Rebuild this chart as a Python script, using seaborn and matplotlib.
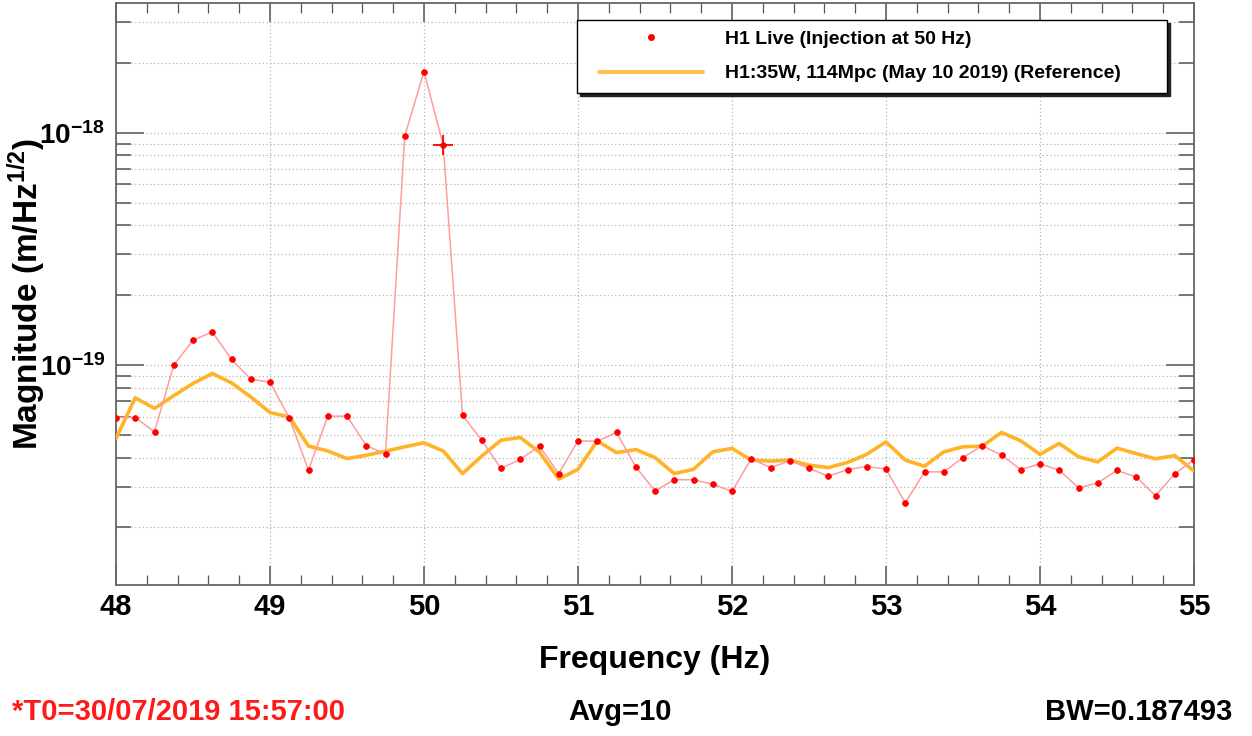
import numpy as np
import pandas as pd
import matplotlib
matplotlib.use("Agg")
import matplotlib.pyplot as plt
import matplotlib.ticker as mticker
from matplotlib.lines import Line2D
from matplotlib.legend_handler import HandlerLine2D
import seaborn as sns

# ---------------- data ----------------
freq = [48.0 + 0.125 * i for i in range(57)]

live = [5.95e-20, 5.95e-20, 5.16e-20, 1.00e-19, 1.28e-19, 1.39e-19, 1.06e-19, 8.7e-20,
        8.45e-20, 5.93e-20, 3.53e-20, 6.03e-20, 6.03e-20, 4.5e-20, 4.15e-20,
        9.7e-19, 1.84e-18, 8.85e-19,
        6.07e-20, 4.75e-20, 3.59e-20, 3.93e-20, 4.48e-20,
        3.41e-20, 4.72e-20, 4.70e-20, 5.13e-20, 3.65e-20, 2.87e-20, 3.21e-20, 3.21e-20,
        3.07e-20, 2.86e-20, 3.95e-20, 3.62e-20, 3.87e-20, 3.60e-20, 3.32e-20, 3.55e-20,
        3.66e-20, 3.57e-20, 2.55e-20, 3.47e-20,
        3.47e-20, 4.00e-20, 4.50e-20, 4.10e-20, 3.55e-20, 3.76e-20, 3.53e-20, 2.96e-20,
        3.11e-20, 3.52e-20, 3.30e-20, 2.74e-20, 3.40e-20, 3.92e-20]

reference = [4.83e-20, 7.23e-20, 6.51e-20, 7.39e-20, 8.34e-20, 9.21e-20, 8.39e-20, 7.30e-20,
             6.25e-20, 5.99e-20, 4.48e-20, 4.27e-20, 3.96e-20, 4.09e-20, 4.26e-20, 4.45e-20,
             4.63e-20, 4.27e-20, 3.41e-20, 4.06e-20, 4.75e-20, 4.88e-20, 4.22e-20, 3.23e-20,
             3.56e-20, 4.72e-20, 4.20e-20, 4.33e-20, 4.00e-20, 3.41e-20, 3.56e-20, 4.23e-20,
             4.38e-20, 3.90e-20, 3.86e-20, 3.90e-20, 3.71e-20, 3.62e-20, 3.81e-20, 4.13e-20,
             4.67e-20, 3.90e-20, 3.67e-20, 4.23e-20, 4.45e-20, 4.48e-20, 5.13e-20, 4.72e-20,
             4.13e-20, 4.60e-20, 4.03e-20, 3.83e-20, 4.39e-20, 4.16e-20, 3.95e-20, 4.08e-20,
             3.50e-20]

cursor_index = 17  # the "+" cursor marker at 50.125 Hz

x_ticks = [48, 49, 50, 51, 52, 53, 54, 55]
y_ticks = [1e-19, 1e-18]
y_tick_labels = [r"$\mathbf{10^{-19}}$", r"$\mathbf{10^{-18}}$"]
live_label = "H1 Live (Injection at 50 Hz)"
ref_label = "H1:35W, 114Mpc (May 10 2019) (Reference)"
footer_left = "*T0=30/07/2019 15:57:00"
footer_mid = "Avg=10"
footer_right = "BW=0.187493"

# ---------------- style ----------------
sns.set_theme(style="white")
plt.rcParams["font.family"] = ["Liberation Sans", "DejaVu Sans"]
plt.rcParams["font.weight"] = "bold"
plt.rcParams["text.color"] = "black"
plt.rcParams["axes.labelcolor"] = "black"
plt.rcParams["xtick.labelcolor"] = "black"
plt.rcParams["ytick.labelcolor"] = "black"
plt.rcParams["mathtext.fontset"] = "custom"
plt.rcParams["mathtext.rm"] = "Liberation Sans:bold"
plt.rcParams["mathtext.bf"] = "Liberation Sans:bold"
plt.rcParams["mathtext.it"] = "Liberation Sans:bold"
plt.rcParams["axes.unicode_minus"] = True

df_live = pd.DataFrame({"freq": freq, "mag": live})
df_ref = pd.DataFrame({"freq": freq, "mag": reference})

fig = plt.figure(figsize=(12.52, 7.36), dpi=100)
ax = fig.add_axes([116 / 1252, 1 - 585 / 736, (1194 - 116) / 1252, (585 - 3) / 736])

sns.lineplot(data=df_ref, x="freq", y="mag", ax=ax, color="#ffb327", lw=2.6, zorder=3)
sns.lineplot(data=df_live, x="freq", y="mag", ax=ax, color="#ff9c9c", lw=1.1,
             marker="o", markersize=4.2, markerfacecolor="#ff0000",
             markeredgecolor="#ff0000", markeredgewidth=0.5, zorder=4)
ax.plot(df_live["freq"].iloc[cursor_index], df_live["mag"].iloc[cursor_index],
        marker="+", ms=15, mew=1.3, color="#ff0000", zorder=5, ls="none")

ax.set_yscale("log")
ax.set_xlim(48, 55)
ax.set_ylim(1.13e-20, 3.63e-18)

# ticks
ax.xaxis.set_major_locator(mticker.FixedLocator(x_ticks))
ax.xaxis.set_minor_locator(mticker.MultipleLocator(0.2))
ax.xaxis.set_major_formatter(mticker.FormatStrFormatter("%d"))
ax.yaxis.set_major_locator(mticker.FixedLocator(y_ticks))
ax.yaxis.set_major_formatter(mticker.FixedFormatter(y_tick_labels))
ax.yaxis.set_minor_locator(mticker.LogLocator(base=10, subs=np.arange(2, 10), numticks=20))
ax.yaxis.set_minor_formatter(mticker.NullFormatter())

tick_col = "#555555"
ax.tick_params(axis="x", which="major", direction="in", length=14, width=1.1,
               top=True, bottom=True, color=tick_col, labelsize=21, pad=6,
               labelcolor="black")
ax.tick_params(axis="x", which="minor", direction="in", length=7, width=0.9,
               top=True, bottom=True, color=tick_col)
ax.tick_params(axis="y", which="major", direction="in", length=20, width=1.1,
               left=True, right=True, color=tick_col, labelsize=20, pad=8,
               labelcolor="black")
ax.tick_params(axis="y", which="minor", direction="in", length=10.5, width=1.1,
               left=True, right=True, color=tick_col)
for lab in ax.get_xticklabels() + ax.get_yticklabels():
    lab.set_fontweight("bold")

for sp in ax.spines.values():
    sp.set_color("#666666")
    sp.set_linewidth(1.3)

ax.grid(True, which="major", axis="x", ls=(0, (1, 2)), color="#b5b5b5", lw=0.9)
ax.grid(True, which="both", axis="y", ls=(0, (1, 2)), color="#b5b5b5", lw=0.9)
ax.set_axisbelow(True)

ax.set_xlabel("Frequency (Hz)", fontsize=23, fontweight="bold", color="black")
ax.set_ylabel(r"Magnitude (m/Hz$^{1/2}$)", fontsize=24, fontweight="bold", color="black")
ax.xaxis.set_label_coords(0.5, -0.103)
ax.yaxis.set_label_coords(-0.063, 0.5)

# legend
handles = [Line2D([], [], ls="none", marker="o", ms=4, color="#ff0000"),
           Line2D([], [], color="#ffc04a", lw=2.8)]
leg = ax.legend(handles, [live_label, ref_label], loc="upper left",
                bbox_to_anchor=(0.4276, 0.8454, 0.5475, 0.1254), mode="expand",
                prop={"size": 14, "weight": "bold"}, frameon=True, fancybox=False,
                shadow={"color": "#222222", "alpha": 1.0}, edgecolor="#000000",
                framealpha=1.0, borderpad=0.55, labelspacing=0.85,
                handlelength=5.93, handletextpad=1.13, borderaxespad=0,
                handler_map={Line2D: HandlerLine2D(xpad=0.58)})
leg.get_frame().set_linewidth(1.0)
for t in leg.get_texts():
    t.set_color("black")

# footer
fig.text(12 / 1252, 1 - 712 / 736, footer_left, color="#ff1a1a", fontsize=21,
         fontweight="bold", ha="left", va="center")
fig.text(620 / 1252, 1 - 712 / 736, footer_mid, color="black", fontsize=21,
         fontweight="bold", ha="center", va="center")
fig.text(1232 / 1252, 1 - 712 / 736, footer_right, color="black", fontsize=21,
         fontweight="bold", ha="right", va="center")

fig.savefig("out.png", dpi=100, facecolor="white")
